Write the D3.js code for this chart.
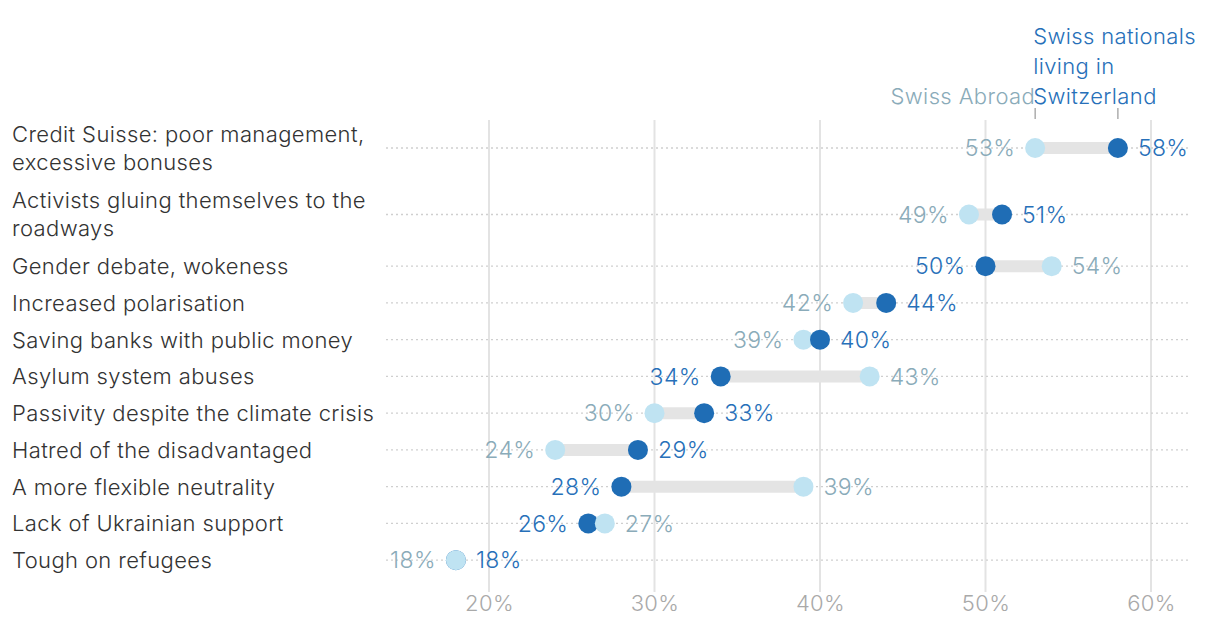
<!DOCTYPE html>
<html><head><meta charset="utf-8">
<script src="https://cdn.jsdelivr.net/npm/d3@7"></script>
<style>
body{margin:0;background:#fff;}
text{font-family:Inter,"Helvetica Neue",Arial,sans-serif;font-weight:300;letter-spacing:0.38px;}
</style></head>
<body><svg id="c" width="1220" height="624"></svg>
<script>
const categories = [
  "Credit Suisse: poor management, excessive bonuses",
  "Activists gluing themselves to the roadways",
  "Gender debate, wokeness",
  "Increased polarisation",
  "Saving banks with public money",
  "Asylum system abuses",
  "Passivity despite the climate crisis",
  "Hatred of the disadvantaged",
  "A more flexible neutrality",
  "Lack of Ukrainian support",
  "Tough on refugees"
];
const abroad = [53, 49, 54, 42, 39, 43, 30, 24, 39, 27, 18];
const home   = [58, 51, 50, 44, 40, 34, 33, 29, 28, 26, 18];
const tickValues = [20, 30, 40, 50, 60];
const seriesNames = ["Swiss Abroad", "Swiss nationals living in Switzerland"];

(function(){
const svg = d3.select("#c");
const x = d3.scaleLinear().domain([20, 60]).range([489, 1151]);
const plotL = 386, plotR = 1188, plotTop = 120, plotBottom = 592;
const labelX = 12, labelW = 385, lineH = 28;

const cAbroad = "#bfe3f2", cHome = "#1f6db5";
const tAbroad = "#8aabb9", tHome = "#2770b9";

const meas = svg.append("text").attr("font-size", 22);
function wrap(s) {
  const words = s.split(" "); const lines = []; let cur = "";
  for (const w of words) {
    const t = cur ? cur + " " + w : w;
    meas.text(t);
    if (meas.node().getComputedTextLength() > labelW && cur) { lines.push(cur); cur = w; }
    else cur = t;
  }
  lines.push(cur); return lines;
}
const wrapped = categories.map(wrap);
meas.remove();

let yTop = 114.75;
const centers = wrapped.map(l => { const h = l.length * 29.75 + 7; const c = yTop + h / 2; yTop += h; return c; });
const y = d3.scaleOrdinal().domain(categories).range(centers);

svg.append("g").selectAll("line").data(tickValues).join("line")
  .attr("x1", d => x(d)).attr("x2", d => x(d))
  .attr("y1", plotTop).attr("y2", plotBottom)
  .attr("stroke", "#e3e3e3").attr("stroke-width", 2);

const axis = d3.axisBottom(x).tickValues(tickValues).tickFormat(d => d + "%").tickSize(0).tickPadding(0);
const ag = svg.append("g").attr("transform", `translate(0,${plotBottom})`).call(axis);
ag.select(".domain").remove();
ag.selectAll("text").attr("font-size", 22).attr("fill", "#a9a9a9").attr("dy", "0.85em")
  .attr("font-family", "Inter,'Helvetica Neue',Arial,sans-serif");

const rows = categories.map((c, i) => ({ c, a: abroad[i], h: home[i], lines: wrapped[i] }));

svg.append("g").selectAll("line").data(rows).join("line")
  .attr("x1", plotL).attr("x2", plotR)
  .attr("y1", d => y(d.c)).attr("y2", d => y(d.c))
  .attr("stroke", "#cfcfcf").attr("stroke-width", 1.3).attr("stroke-dasharray", "2,3");

const lab = svg.append("g").selectAll("text").data(rows).join("text")
  .attr("font-size", 22).attr("fill", "#333");
lab.each(function(d) {
  const n = d.lines.length;
  d3.select(this).selectAll("tspan").data(d.lines).join("tspan")
    .attr("x", labelX)
    .attr("y", (l, j) => y(d.c) + (j - (n - 1) / 2) * lineH)
    .attr("dy", "0.36em")
    .text(l => l);
});

svg.append("g").selectAll("line").data(rows).join("line")
  .attr("x1", d => x(Math.min(d.a, d.h))).attr("x2", d => x(Math.max(d.a, d.h)))
  .attr("y1", d => y(d.c)).attr("y2", d => y(d.c))
  .attr("stroke", "#e4e4e4").attr("stroke-width", 12);

const dotG = svg.append("g");
rows.forEach(d => {
  const pts = [{ v: d.h, s: "h" }, { v: d.a, s: "a" }];
  pts.sort((p, q) => p.v - q.v || (p.s === "h" ? -1 : 1));
  pts.forEach(p => {
    dotG.append("circle").attr("cx", x(p.v)).attr("cy", y(d.c)).attr("r", 10)
      .attr("fill", p.s === "h" ? cHome : cAbroad);
  });
});

const vg = svg.append("g");
rows.forEach(d => {
  let leftS, rightS;
  if (d.a <= d.h) { leftS = "a"; rightS = "h"; } else { leftS = "h"; rightS = "a"; }
  const val = s => s === "a" ? d.a : d.h;
  const col = s => s === "a" ? tAbroad : tHome;
  vg.append("text").attr("x", x(Math.min(d.a, d.h)) - 20).attr("y", y(d.c)).attr("dy", "0.36em")
    .attr("text-anchor", "end").attr("font-size", 23).attr("fill", col(leftS)).text(val(leftS) + "%");
  vg.append("text").attr("x", x(Math.max(d.a, d.h)) + 20).attr("y", y(d.c)).attr("dy", "0.36em")
    .attr("text-anchor", "start").attr("font-size", 23).attr("fill", col(rightS)).text(val(rightS) + "%");
});

const lg = svg.append("g");
const xa = x(abroad[0]), xh = x(home[0]);
lg.append("line").attr("x1", xa).attr("x2", xa).attr("y1", 108).attr("y2", 119).attr("stroke", "#999").attr("stroke-width", 1.2);
lg.append("line").attr("x1", xh).attr("x2", xh).attr("y1", 108).attr("y2", 119).attr("stroke", "#999").attr("stroke-width", 1.2);
lg.append("text").attr("x", xa).attr("y", 104).attr("text-anchor", "end").attr("font-size", 22)
  .attr("fill", tAbroad).text(seriesNames[0]);
const homeLines = ["Swiss nationals", "living in", "Switzerland"];
lg.append("text").attr("font-size", 22).attr("fill", tHome).selectAll("tspan").data(homeLines).join("tspan")
  .attr("x", xa - 2).attr("y", (l, j) => 44 + j * 30).text(l => l);
})();
</script></body></html>
